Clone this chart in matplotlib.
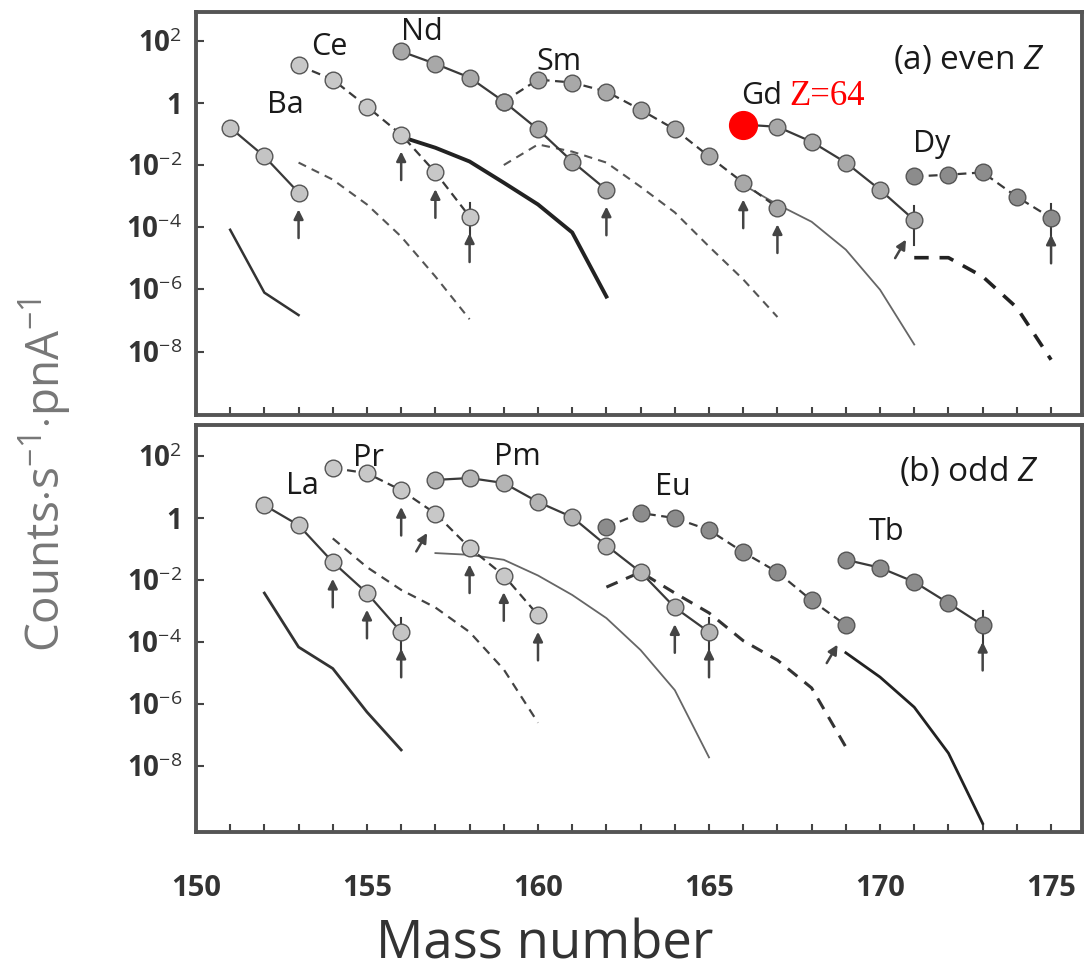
import numpy as np
import matplotlib.pyplot as plt
from matplotlib.ticker import FixedLocator, FixedFormatter, MultipleLocator, NullFormatter

plt.rcParams['font.family'] = ['Open Sans', 'DejaVu Sans']
plt.rcParams['mathtext.fontset'] = 'custom'
plt.rcParams['mathtext.rm'] = 'Open Sans'
plt.rcParams['mathtext.it'] = 'Open Sans:italic'
plt.rcParams['mathtext.bf'] = 'Open Sans:bold'

# ---- panel (a): even Z ----
ba_mass = [151, 152, 153]
ba_data = [1.6e-1, 1.9e-2, 1.3e-3]
ba_calc = [8.3e-5, 7.9e-7, 1.5e-7]

ce_mass = [153, 154, 155, 156, 157, 158]
ce_data = [16, 5.6, 0.76, 9.5e-2, 5.8e-3, 2.2e-4]
ce_calc = [1.2e-2, 3.4e-3, 5.4e-4, 5.0e-5, 2.6e-6, 1.1e-7]

nd_mass = [156, 157, 158, 159, 160, 161, 162]
nd_data = [45, 18, 6.5, 1.1, 0.14, 1.3e-2, 1.6e-3]
nd_calc = [8.1e-2, 3.6e-2, 1.3e-2, 2.7e-3, 5.4e-4, 6.8e-5, 5.9e-7]

sm_mass = [159, 160, 161, 162, 163, 164, 165, 166, 167]
sm_data = [1.1, 5.6, 4.5, 2.3, 0.60, 0.14, 1.9e-2, 2.7e-3, 4.3e-4]
sm_calc = [1.0e-2, 4.6e-2, 2.7e-2, 1.2e-2, 2.0e-3, 3.0e-4, 2.4e-5, 2.1e-6, 1.3e-7]

gd_mass = [166, 167, 168, 169, 170, 171]
gd_data = [0.20, 0.17, 5.6e-2, 1.2e-2, 1.6e-3, 1.7e-4]
gd_calc = [2.3e-3, 5.4e-4, 1.5e-4, 1.9e-5, 9.8e-7, 1.7e-8]

dy_mass = [171, 172, 173, 174, 175]
dy_data = [4.3e-3, 4.9e-3, 5.8e-3, 9.5e-4, 2.0e-4]
dy_calc = [1.05e-5, 1.05e-5, 2.6e-6, 2.6e-7, 5.5e-9]

# ---- panel (b): odd Z ----
la_mass = [152, 153, 154, 155, 156]
la_data = [2.6, 0.59, 3.8e-2, 3.8e-3, 2.1e-4]
la_calc = [3.8e-3, 6.9e-5, 1.4e-5, 5.5e-7, 3.3e-8]

pr_mass = [154, 155, 156, 157, 158, 159, 160]
pr_data = [41, 28, 7.9, 1.4, 0.11, 1.4e-2, 7.4e-4]
pr_calc = [0.22, 2.6e-2, 4.8e-3, 1.3e-3, 2.1e-4, 1.3e-5, 2.5e-7]

pm_mass = [157, 158, 159, 160, 161, 162, 163, 164, 165]
pm_data = [17, 19.5, 13.5, 3.3, 1.07, 0.13, 1.8e-2, 1.3e-3, 2.1e-4]
pm_calc = [7.4e-2, 6.5e-2, 4.5e-2, 1.4e-2, 3.3e-3, 5.9e-4, 5.5e-5, 2.8e-6, 1.9e-8]

eu_mass = [162, 163, 164, 165, 166, 167, 168, 169]
eu_data = [0.51, 1.45, 1.0, 0.41, 7.9e-2, 1.8e-2, 2.2e-3, 3.5e-4]
eu_calc = [5.9e-3, 1.8e-2, 3.8e-3, 8.7e-4, 1.1e-4, 2.6e-5, 3.3e-6, 4.1e-8]

tb_mass = [169, 170, 171, 172, 173]
tb_data = [4.5e-2, 2.5e-2, 8.7e-3, 1.8e-3, 3.5e-4]
tb_calc = [4.5e-5, 7.4e-6, 7.9e-7, 2.6e-8, 1.4e-10]

# isotopes marked with an upward arrow (straight / slanted) and with a vertical bar
arrows_a = {'Ba': [153], 'Ce': [156, 157, 158], 'Nd': [162], 'Sm': [166, 167], 'Dy': [175]}
slanted_a = {'Gd': [171]}
bars_a = {'Ce': [158], 'Gd': [171], 'Dy': [175]}
arrows_b = {'La': [154, 155, 156], 'Pr': [156, 158, 159, 160], 'Pm': [164, 165], 'Tb': [173]}
slanted_b = {'Pr': [157], 'Eu': [169]}
bars_b = {'La': [156], 'Pm': [165], 'Tb': [173]}

ytick_vals = [1e2, 1, 1e-2, 1e-4, 1e-6, 1e-8]
ytick_labels = [r'10$^{2}$', '1', r'10$^{-2}$', r'10$^{-4}$', r'10$^{-6}$', r'10$^{-8}$']

LINE = '#3a3a3a'


def draw(ax, name, mass, data, calc, ls, mcolor, cls, clw, ccolor,
         arrows, slanted, bars, first_red=False):
    dash = (0, (4, 2.5)) if ls == '--' else '-'
    cdash = (0, (4, 3)) if cls == '--' else '-'
    ax.plot(mass, calc, linestyle=cdash, lw=clw, color=ccolor, zorder=2)
    ax.plot(mass, data, linestyle=dash, lw=1.6, color=LINE, marker='o', ms=12,
            mfc=mcolor, mec='#555555', mew=1.0, zorder=4)
    if first_red:
        ax.plot(mass[0], data[0], marker='o', ms=20, mfc='red', mec='red', zorder=6)
    lookup = dict(zip(mass, data))
    for m in bars.get(name, []):
        v = lookup[m]
        ax.plot([m, m], [v * 10 ** 0.45, v * 10 ** -0.8], color=LINE, lw=1.5, zorder=3)
    for m in arrows.get(name, []):
        v = lookup[m]
        ax.annotate('', xy=(m, v * 10 ** -0.45), xytext=(m, v * 10 ** -1.55),
                    arrowprops=dict(arrowstyle='-|>', color='#444444', lw=1.8,
                                    mutation_scale=14), zorder=3)
    for m in slanted.get(name, []):
        v = lookup[m]
        ax.annotate('', xy=(m - 0.2, v * 10 ** -0.55), xytext=(m - 0.6, v * 10 ** -1.3),
                    arrowprops=dict(arrowstyle='-|>', color='#444444', lw=1.8,
                                    mutation_scale=14), zorder=3)


def style(ax, ylim, show_x):
    ax.set_yscale('log')
    ax.set_xlim(150.0, 175.9)
    ax.set_ylim(*ylim)
    ax.yaxis.set_major_locator(FixedLocator(ytick_vals))
    ax.yaxis.set_major_formatter(FixedFormatter(ytick_labels))
    ax.yaxis.set_minor_locator(FixedLocator([]))
    ax.xaxis.set_major_locator(MultipleLocator(5))
    ax.xaxis.set_minor_locator(MultipleLocator(1))
    ax.tick_params(axis='both', which='both', direction='in', length=6, width=1.5,
                   color='#444444', top=False, right=False)
    ax.tick_params(axis='y', labelsize=20, pad=10, labelcolor='#333333')
    ax.tick_params(axis='x', labelsize=21, pad=30, labelcolor='#333333')
    for lab in ax.get_yticklabels() + ax.get_xticklabels():
        lab.set_fontweight('bold')
    if not show_x:
        ax.xaxis.set_major_formatter(NullFormatter())
    for sp in ax.spines.values():
        sp.set_linewidth(2.8)
        sp.set_color('#555555')


fig = plt.figure(figsize=(10.85, 9.76), dpi=100)
ax1 = fig.add_axes([0.1806, 0.575, 0.8165, 0.413])
ax2 = fig.add_axes([0.1806, 0.1475, 0.8165, 0.417])

# panel (a)
draw(ax1, 'Ba', ba_mass, ba_data, ba_calc, '-', '#c4c4c4', '-', 1.8, '#333333', arrows_a, slanted_a, bars_a)
draw(ax1, 'Ce', ce_mass, ce_data, ce_calc, '--', '#c8c8c8', '--', 1.5, '#555555', arrows_a, slanted_a, bars_a)
draw(ax1, 'Nd', nd_mass, nd_data, nd_calc, '-', '#a8a8a8', '-', 2.8, '#222222', arrows_a, slanted_a, bars_a)
draw(ax1, 'Sm', sm_mass, sm_data, sm_calc, '--', '#a8a8a8', '--', 1.5, '#555555', arrows_a, slanted_a, bars_a)
draw(ax1, 'Gd', gd_mass, gd_data, gd_calc, '-', '#a8a8a8', '-', 1.3, '#666666', arrows_a, slanted_a, bars_a,
     first_red=True)
draw(ax1, 'Dy', dy_mass, dy_data, dy_calc, '--', '#8c8c8c', '--', 2.6, '#222222', arrows_a, slanted_a, bars_a)

# panel (b)
draw(ax2, 'La', la_mass, la_data, la_calc, '-', '#c4c4c4', '-', 2.0, '#333333', arrows_b, slanted_b, bars_b)
draw(ax2, 'Pr', pr_mass, pr_data, pr_calc, '--', '#c8c8c8', '--', 1.6, '#444444', arrows_b, slanted_b, bars_b)
draw(ax2, 'Pm', pm_mass, pm_data, pm_calc, '-', '#b4b4b4', '-', 1.3, '#666666', arrows_b, slanted_b, bars_b)
draw(ax2, 'Eu', eu_mass, eu_data, eu_calc, '--', '#8c8c8c', '--', 2.2, '#333333', arrows_b, slanted_b, bars_b)
draw(ax2, 'Tb', tb_mass, tb_data, tb_calc, '-', '#8c8c8c', '-', 2.0, '#222222', arrows_b, slanted_b, bars_b)

style(ax1, (10 ** -10.03, 10 ** 2.93), False)
style(ax2, (10 ** -10.13, 10 ** 3.0), True)

lab_kw = dict(fontsize=22, color='#1a1a1a', ha='center', va='center')
ax1.text(152.6, 0.87, 'Ba', **lab_kw)
ax1.text(153.9, 64, 'Ce', **lab_kw)
ax1.text(156.6, 195, 'Nd', **lab_kw)
ax1.text(160.6, 21, 'Sm', **lab_kw)
ax1.text(166.55, 1.7, 'Gd', **lab_kw)
ax1.text(171.5, 0.046, 'Dy', **lab_kw)
ax1.text(167.35, 1.6, 'Z=64', fontsize=25, color='red', family='Liberation Serif',
         ha='left', va='center')
ax1.text(0.872, 0.880, r'(a) even $Z$', transform=ax1.transAxes, fontsize=24,
         color='#1a1a1a', ha='center', va='center')

ax2.text(153.1, 10.7, 'La', **lab_kw)
ax2.text(155.05, 87, 'Pr', **lab_kw)
ax2.text(159.4, 93, 'Pm', **lab_kw)
ax2.text(163.95, 10, 'Eu', **lab_kw)
ax2.text(170.2, 0.35, 'Tb', **lab_kw)
ax2.text(0.872, 0.885, r'(b) odd $Z$', transform=ax2.transAxes, fontsize=24,
         color='#1a1a1a', ha='center', va='center')

fig.text(45 / 1085, 1 - 475 / 976, r'Counts$\cdot$s$^{-1}$$\cdot$pnA$^{-1}$', rotation=90,
         fontsize=33, color='#777777', ha='center', va='center')
fig.text(545 / 1085, 1 - 945 / 976, 'Mass number', fontsize=38, color='#333333',
         ha='center', va='center')

fig.savefig('out.png', dpi=100)
